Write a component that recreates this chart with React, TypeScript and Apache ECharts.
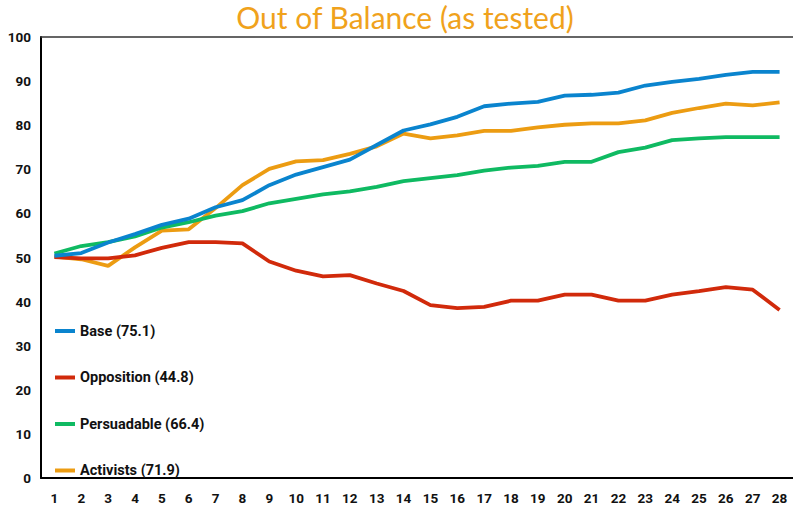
import React, { useEffect, useRef } from "react";
import * as echarts from "echarts";

const categories = Array.from({ length: 28 }, (_, i) => String(i + 1));
const yTicks = [0, 100, 10];

const seriesNames = ["Base (75.1)", "Opposition (44.8)", "Persuadable (66.4)", "Activists (71.9)"];

const base = [50.4, 51.0, 53.4, 55.3, 57.4, 58.8, 61.4, 63.0, 66.4, 68.8, 70.5, 72.2, 75.5, 78.8, 80.2, 81.9, 84.3, 84.9, 85.3, 86.7, 86.9, 87.4, 89.0, 89.8, 90.5, 91.4, 92.1, 92.1];
const opposition = [50.1, 49.8, 49.8, 50.5, 52.2, 53.5, 53.5, 53.2, 49.1, 47.0, 45.7, 46.0, 44.1, 42.4, 39.2, 38.5, 38.8, 40.2, 40.2, 41.6, 41.6, 40.2, 40.2, 41.6, 42.4, 43.3, 42.7, 38.1];
const persuadable = [50.9, 52.6, 53.5, 54.8, 56.8, 58.0, 59.5, 60.5, 62.3, 63.3, 64.3, 65.0, 66.0, 67.3, 68.0, 68.7, 69.7, 70.4, 70.8, 71.7, 71.7, 73.9, 74.9, 76.6, 77.0, 77.3, 77.3, 77.3];
const activists = [50.2, 49.6, 48.1, 52.3, 56.1, 56.4, 61.2, 66.4, 70.1, 71.8, 72.1, 73.5, 75.2, 78.1, 77.0, 77.7, 78.7, 78.7, 79.5, 80.1, 80.4, 80.4, 81.1, 82.8, 83.9, 84.9, 84.5, 85.2];

const colors = ["#0A84CE", "#D12A0B", "#0FBA62", "#EC9C12"];

const labelFont = "Roboto, 'Noto Sans', sans-serif";

export default function App() {
  const ref = useRef<HTMLDivElement>(null);
  useEffect(() => {
    if (!ref.current) return;
    const chart = echarts.init(ref.current, null, { renderer: "svg" });
    const data = [base, opposition, persuadable, activists];
    chart.setOption({
      animation: false,
      backgroundColor: "#ffffff",
      title: {
        text: "Out of Balance (as tested)",
        left: 405,
        textAlign: "center",
        top: 2,
        padding: 0,
        textStyle: {
          color: "#F0A21C",
          fontFamily: "Lato, 'Open Sans', sans-serif",
          fontWeight: 400,
          fontSize: 30,
        },
      },
      legend: {
        orient: "vertical",
        left: 55,
        top: 322,
        padding: 0,
        icon: "rect",
        itemWidth: 20,
        itemHeight: 4,
        itemGap: 28.5,
        data: seriesNames,
        textStyle: {
          color: "#111",
          fontFamily: labelFont,
          fontWeight: "bold",
          fontSize: 14.5,
          lineHeight: 18,
        },
      },
      grid: { left: 41, top: 37, width: 756, height: 441, containLabel: false },
      xAxis: [
        {
          type: "category",
          data: categories,
          boundaryGap: true,
          axisLine: { lineStyle: { color: "#000", width: 2 } },
          axisTick: { show: false },
          axisLabel: {
            color: "#111",
            fontFamily: labelFont,
            fontWeight: "bold",
            fontSize: 13.5,
            margin: 13,
            interval: 0,
          },
          splitLine: { show: false },
        },
        {
          type: "category",
          position: "top",
          data: categories,
          axisLine: { lineStyle: { color: "#333", width: 1.5 } },
          axisTick: { show: false },
          axisLabel: { show: false },
          splitLine: { show: false },
        },
      ],
      yAxis: {
        type: "value",
        min: yTicks[0],
        max: yTicks[1],
        interval: yTicks[2],
        axisLine: { show: true, lineStyle: { color: "#000", width: 2 } },
        axisTick: { show: false },
        splitLine: { show: false },
        axisLabel: {
          color: "#111",
          fontFamily: labelFont,
          fontWeight: "bold",
          fontSize: 13.5,
          margin: 10,
        },
      },
      series: seriesNames.map((name, i) => ({
        name,
        type: "line",
        data: data[i],
        xAxisIndex: 0,
        showSymbol: false,
        symbol: "none",
        lineStyle: { color: colors[i], width: 3.8 },
        itemStyle: { color: colors[i] },
        z: 4 - i,
      })),
    });
    return () => chart.dispose();
  }, []);
  return <div ref={ref} style={{ width: 793, height: 512, position: "absolute", left: 0, top: 0 }} />;
}
